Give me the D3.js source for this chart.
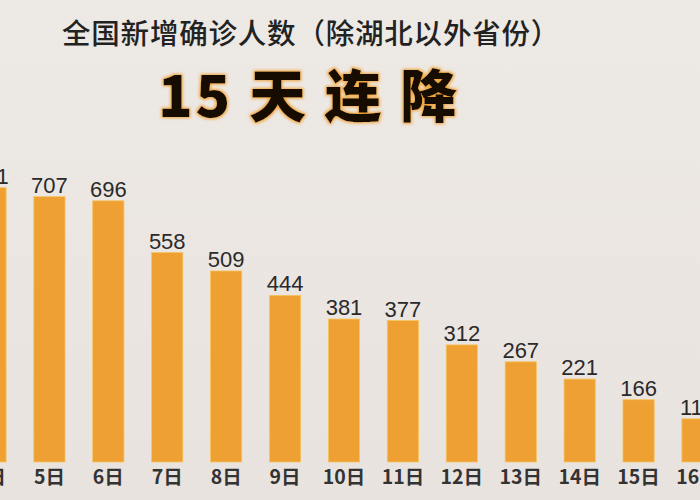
<!DOCTYPE html>
<html>
<head>
<meta charset="utf-8">
<script src="https://cdn.jsdelivr.net/npm/d3@7"></script>
<style>
  html, body { margin: 0; padding: 0; background: #ebe6e1; }
  svg { display: block; }
</style>
</head>
<body>
<div id="chart"></div>
<script>
// ---- data ----
const categories = ["4日","5日","6日","7日","8日","9日","10日","11日","12日","13日","14日","15日","16日"];
const values = [731, 707, 696, 558, 509, 444, 381, 377, 312, 267, 221, 166, 115];
const titleText = "全国新增确诊人数（除湖北以外省份）";
const subtitleText = "15 天 连 降";

const W = 700, H = 500;
const svg = d3.select("#chart").append("svg")
  .attr("width", W).attr("height", H);

// background
const defs = svg.append("defs");
const bg = defs.append("linearGradient").attr("id", "bg")
  .attr("x1", 0).attr("y1", 0).attr("x2", 0).attr("y2", 1);
bg.append("stop").attr("offset", "0%").attr("stop-color", "#ede9e4");
bg.append("stop").attr("offset", "100%").attr("stop-color", "#e9e3df");
svg.append("rect").attr("width", W).attr("height", H).attr("fill", "url(#bg)");

// glow filter for the big subtitle
const f = defs.append("filter").attr("id", "glow")
  .attr("x", "-20%").attr("y", "-30%").attr("width", "140%").attr("height", "160%");
f.append("feMorphology").attr("in", "SourceAlpha").attr("operator", "dilate")
  .attr("radius", 1).attr("result", "dil");
f.append("feGaussianBlur").attr("in", "dil").attr("stdDeviation", 1.5).attr("result", "blur");
f.append("feFlood").attr("flood-color", "#f0a338").attr("result", "col");
f.append("feComposite").attr("in", "col").attr("in2", "blur").attr("operator", "in").attr("result", "glowc");
const m = f.append("feMerge");
m.append("feMergeNode").attr("in", "glowc");
m.append("feMergeNode").attr("in", "SourceGraphic");

// scales
const step = 58.92;
const x = d3.scaleBand()
  .domain(categories)
  .range([-9.5 - step / 2, 697.5 + step / 2])
  .paddingInner(0.47)
  .paddingOuter(0.235);

const y = d3.scaleLinear().domain([0, 800]).range([462, 462 - 800 * 0.3753]);

// bars
svg.append("g").selectAll("rect")
  .data(values)
  .join("rect")
  .attr("x", (d, i) => x(categories[i]))
  .attr("y", d => y(d))
  .attr("width", x.bandwidth())
  .attr("height", d => y(0) - y(d))
  .attr("fill", "#eea033")
  .attr("stroke", "#f6c560")
  .attr("stroke-width", 0.8);

// value labels
svg.append("g").selectAll("text")
  .data(values)
  .join("text")
  .attr("x", (d, i) => x(categories[i]) + x.bandwidth() / 2)
  .attr("y", d => y(d) - 4)
  .attr("text-anchor", "middle")
  .attr("font-family", "'Liberation Sans', Arial, sans-serif")
  .attr("font-size", 22)
  .attr("fill", "#2a2a2a")
  .text(d => d);

// x axis labels
const xAxis = d3.axisBottom(x).tickSize(0).tickPadding(0);
const gx = svg.append("g").attr("transform", `translate(0,${y(0)})`).call(xAxis);
gx.select(".domain").remove();
gx.selectAll("text")
  .attr("y", 22)
  .attr("dy", 0)
  .attr("font-family", "'Noto Sans CJK JP', 'Noto Sans CJK SC', sans-serif")
  .attr("font-weight", 700)
  .attr("font-size", 19.5)
  .attr("fill", "#333");

// title
svg.append("text")
  .attr("x", 62).attr("y", 44)
  .attr("font-family", "'Noto Sans CJK SC', sans-serif")
  .attr("font-size", 28.5)
  .attr("font-weight", 500)
  .attr("letter-spacing", 0.8)
  .attr("fill", "#222")
  .text(titleText);

// subtitle
svg.append("text")
  .attr("x", 158).attr("y", 117)
  .attr("font-family", "'Noto Sans CJK SC', sans-serif")
  .attr("font-size", 57)
  .attr("font-weight", 900)
  .attr("letter-spacing", 2.8)
  .attr("fill", "#140c05")
  .attr("filter", "url(#glow)")
  .text(subtitleText);
</script>
</body>
</html>
